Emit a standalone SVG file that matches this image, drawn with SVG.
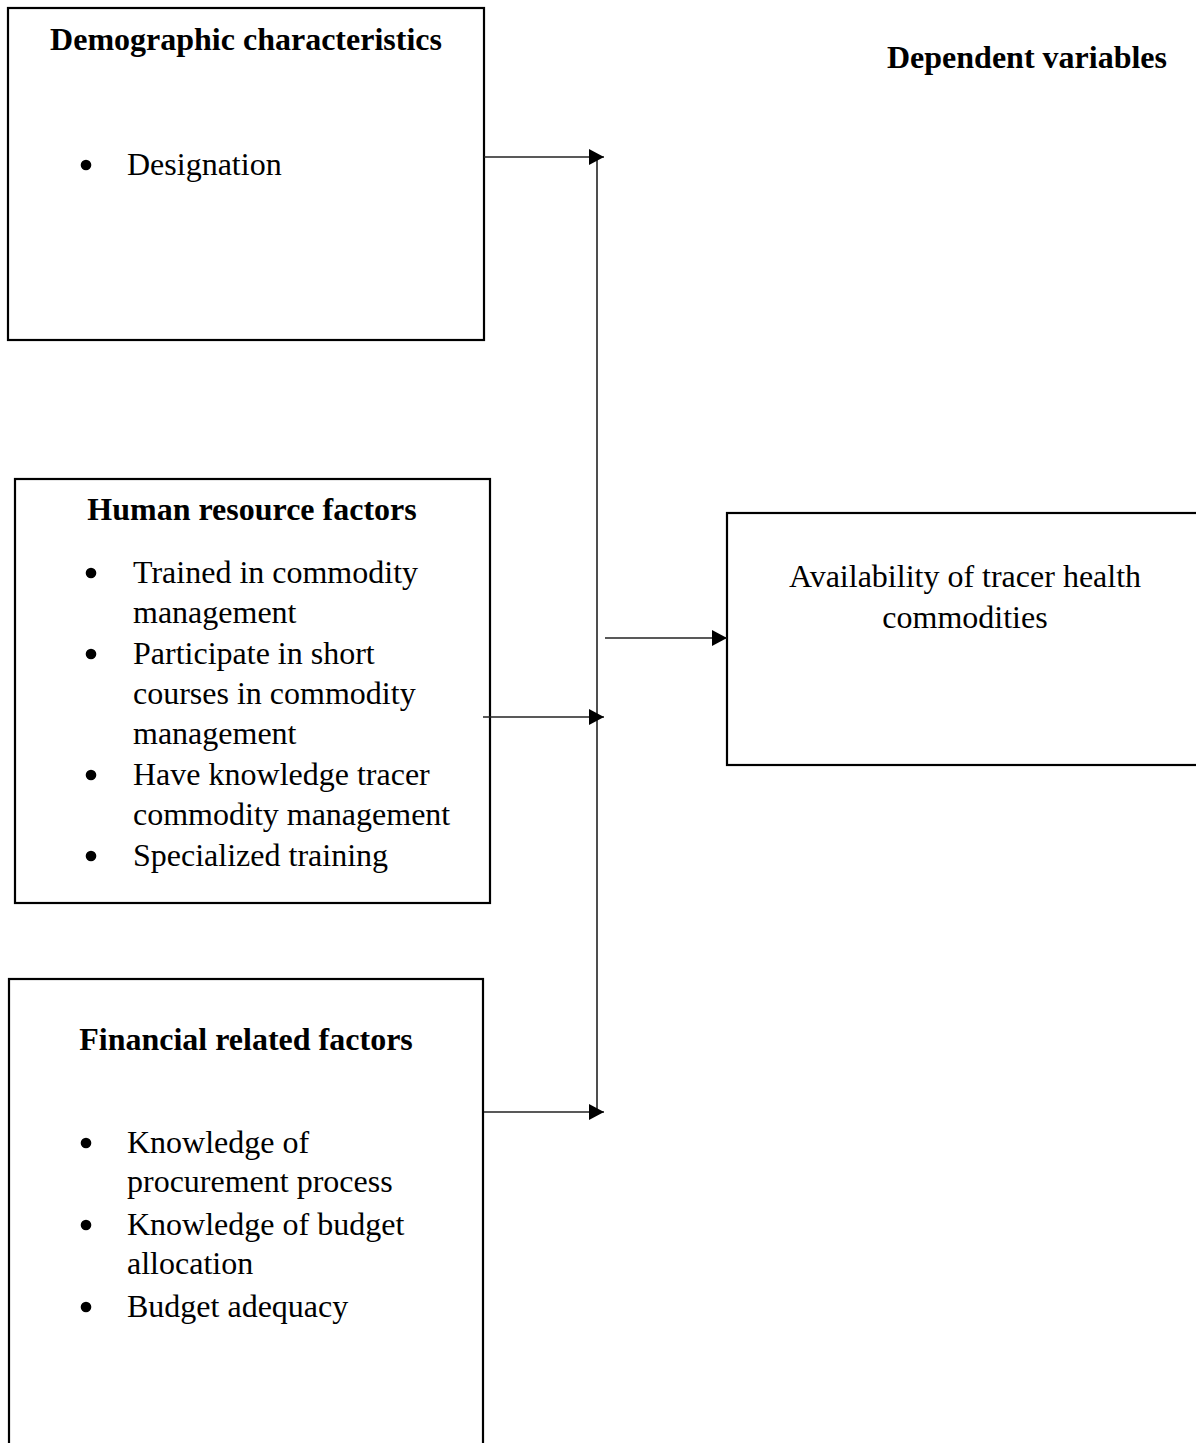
<svg xmlns="http://www.w3.org/2000/svg" width="1196" height="1443" viewBox="0 0 1196 1443">
<style>
  .box { fill: none; stroke: #000; stroke-width: 2.2; }
  .conn { fill: none; stroke: #222; stroke-width: 1.6; }
  .t { font-family: "Liberation Serif", "Times New Roman", serif; font-size: 32px; fill: #000; }
  .b { font-family: "Liberation Serif", "Times New Roman", serif; font-size: 32px; font-weight: bold; fill: #000; }
  .dot { fill: #000; }
</style>
<defs>
  <marker id="arr" markerUnits="userSpaceOnUse" markerWidth="16" markerHeight="16" refX="15" refY="8" orient="auto">
    <path d="M0,0 L15,8 L0,16 Z" fill="#000"/>
  </marker>
</defs>
<rect width="1196" height="1443" fill="#fff"/>

<g id="demographic">
  <rect class="box" x="8" y="8" width="476" height="332"/>
  <text class="b" x="246" y="50" text-anchor="middle">Demographic characteristics</text>
  <circle class="dot" cx="86" cy="165" r="5.3"/>
  <text class="t" x="127" y="175">Designation</text>
</g>

<g id="dependent-label">
  <text class="b" x="1027" y="68" text-anchor="middle">Dependent variables</text>
</g>

<g id="human-resource">
  <rect class="box" x="15" y="479" width="475" height="424"/>
  <text class="b" x="252" y="520" text-anchor="middle">Human resource factors</text>
  <circle class="dot" cx="91" cy="573" r="5.3"/>
  <text class="t" x="133" y="583">Trained in commodity</text>
  <text class="t" x="133" y="623">management</text>
  <circle class="dot" cx="91" cy="654" r="5.3"/>
  <text class="t" x="133" y="664">Participate in short</text>
  <text class="t" x="133" y="704">courses in commodity</text>
  <text class="t" x="133" y="744">management</text>
  <circle class="dot" cx="91" cy="775" r="5.3"/>
  <text class="t" x="133" y="785">Have knowledge tracer</text>
  <text class="t" x="133" y="825">commodity management</text>
  <circle class="dot" cx="91" cy="856" r="5.3"/>
  <text class="t" x="133" y="866">Specialized training</text>
</g>

<g id="financial">
  <rect class="box" x="9" y="979" width="474" height="500"/>
  <text class="b" x="246" y="1050" text-anchor="middle">Financial related factors</text>
  <circle class="dot" cx="86" cy="1143" r="5.3"/>
  <text class="t" x="127" y="1153">Knowledge of</text>
  <text class="t" x="127" y="1192">procurement process</text>
  <circle class="dot" cx="86" cy="1225" r="5.3"/>
  <text class="t" x="127" y="1235">Knowledge of budget</text>
  <text class="t" x="127" y="1274">allocation</text>
  <circle class="dot" cx="86" cy="1307" r="5.3"/>
  <text class="t" x="127" y="1317">Budget adequacy</text>
</g>

<g id="availability">
  <rect class="box" x="727" y="513" width="500" height="252"/>
  <text class="t" x="965" y="587" text-anchor="middle">Availability of tracer health</text>
  <text class="t" x="965" y="628" text-anchor="middle">commodities</text>
</g>

<g id="connectors">
  <line class="conn" x1="597" y1="157" x2="597" y2="1112"/>
  <line class="conn" x1="484" y1="157" x2="604" y2="157" marker-end="url(#arr)"/>
  <line class="conn" x1="483" y1="717" x2="604" y2="717" marker-end="url(#arr)"/>
  <line class="conn" x1="484" y1="1112" x2="604" y2="1112" marker-end="url(#arr)"/>
  <line class="conn" x1="605" y1="638" x2="727" y2="638" marker-end="url(#arr)"/>
</g>
</svg>
